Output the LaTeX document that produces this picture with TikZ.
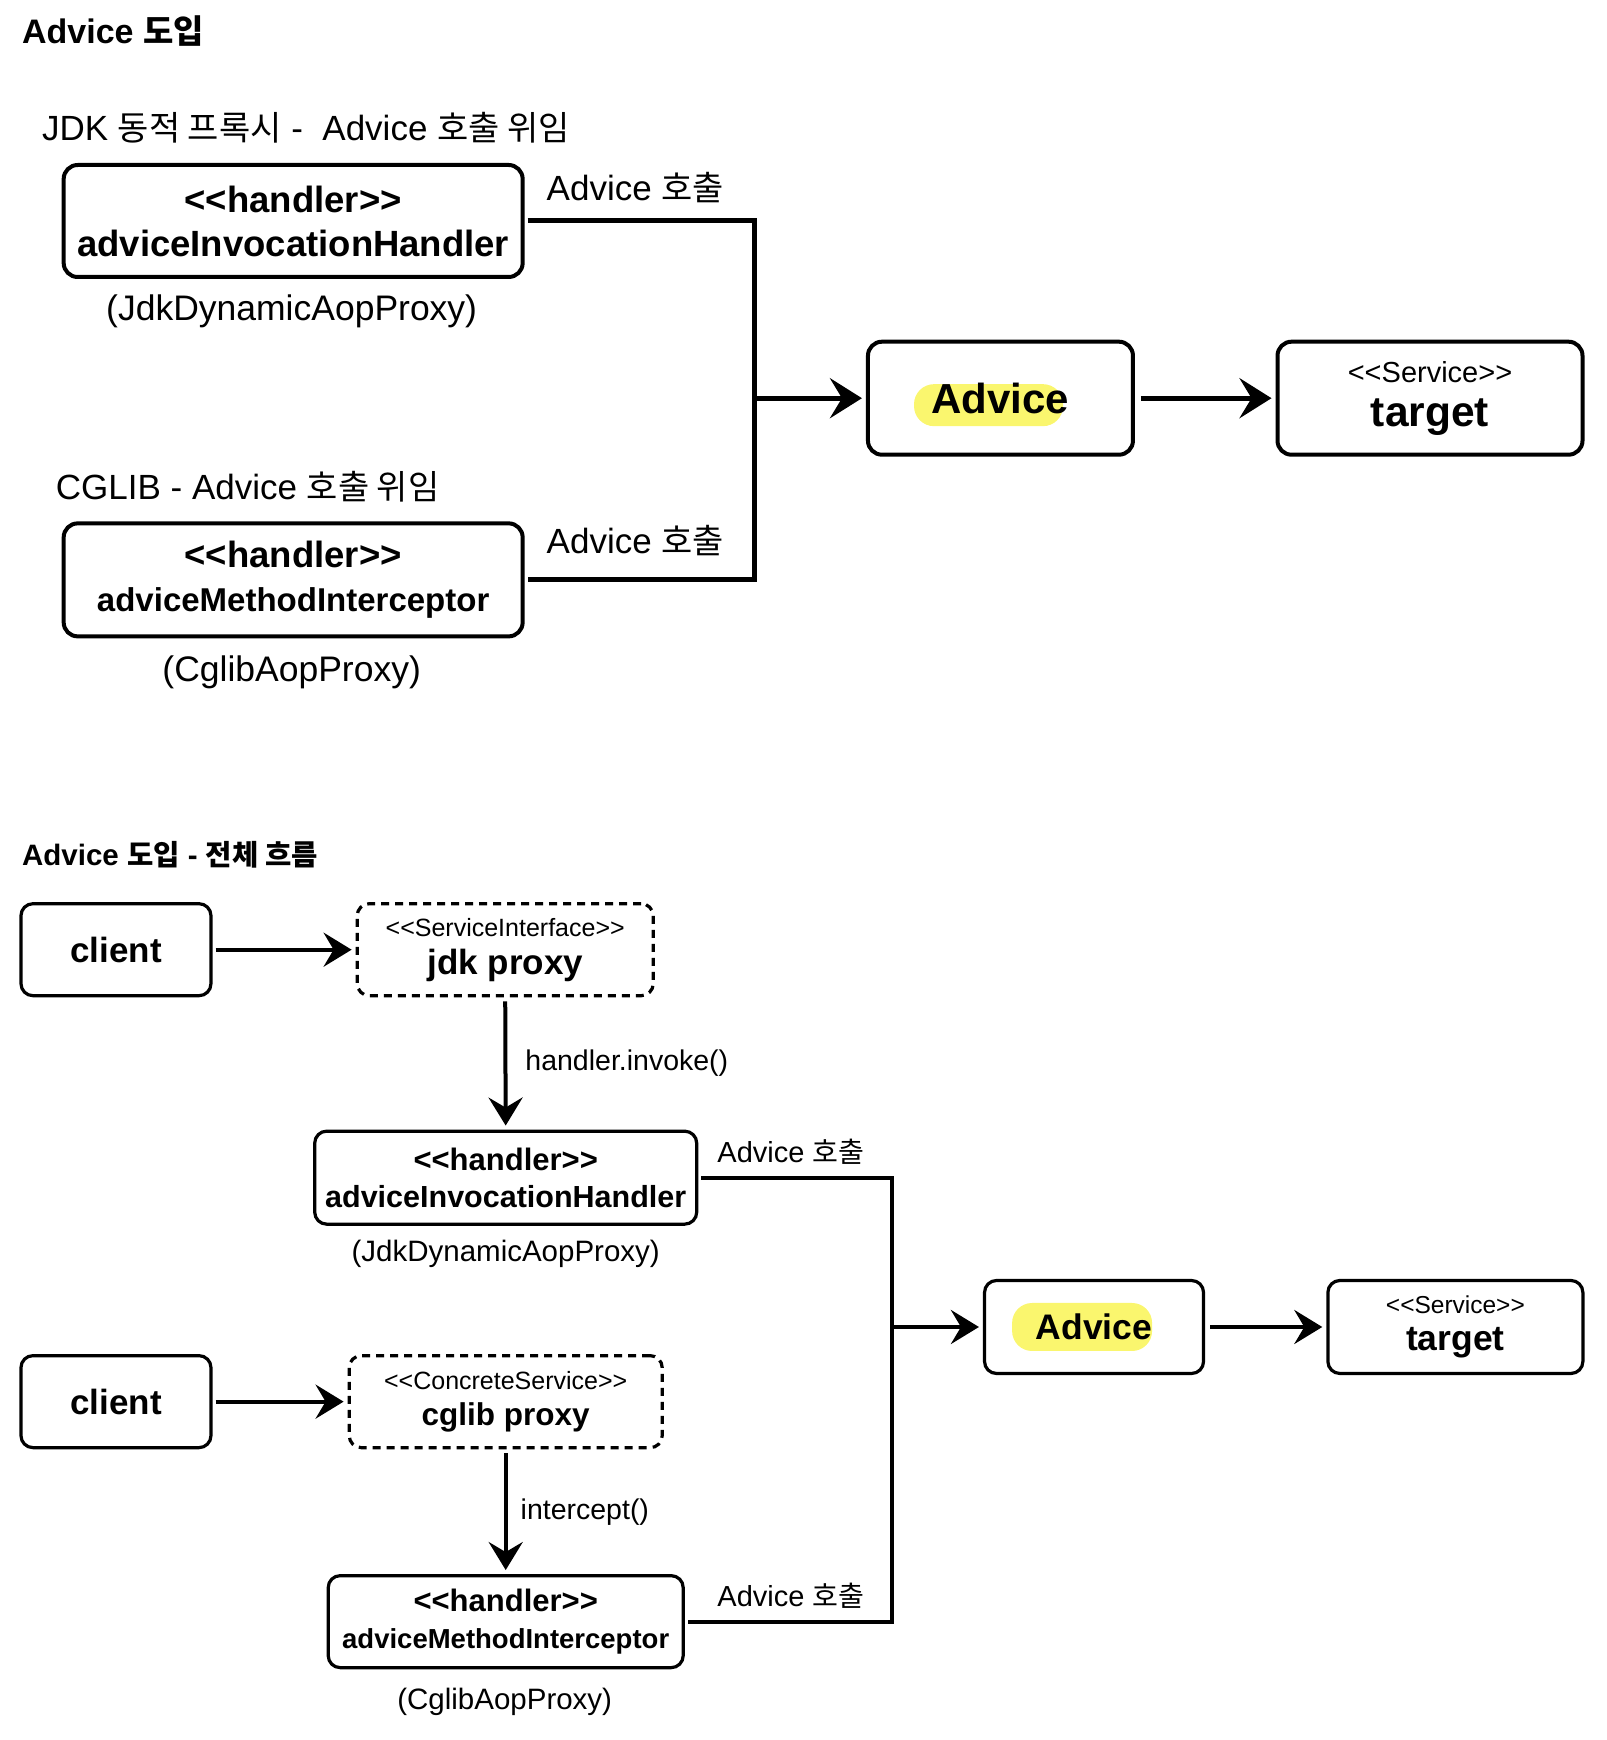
\documentclass[tikz,border=0pt]{standalone}
\usepackage{fontspec}
\setmainfont{Liberation Sans}
\newfontfamily\kor{Noto Sans CJK KR}[Scale=0.97]
\usetikzlibrary{arrows.meta}
\definecolor{hl}{RGB}{250,246,110}
\newcommand\fsz[2]{\fontsize{#1}{#2}\selectfont}
\begin{document}
\begin{tikzpicture}[x=0.9955pt,y=-0.9955pt,
  box/.style={draw=black, line width=4pt, rounded corners=14pt, inner sep=0pt, align=center},
  sbox/.style={box, line width=3.2pt, rounded corners=12pt},
  dbox/.style={sbox, dash pattern=on 8pt off 6pt},
  lbl/.style={inner sep=0pt, anchor=west},
  ctr/.style={inner sep=0pt},
  conn/.style={draw=black, line width=5pt},
  sconn/.style={draw=black, line width=4pt},
  tip/.style={-{Stealth[length=32pt,width=40pt,inset=12pt]}},
  stip/.style={-{Stealth[length=28pt,width=34pt,inset=10pt]}},
  hilite/.style={fill=hl, rounded corners=20pt, inner sep=0pt, draw=none},
]
\useasboundingbox (0,0) rectangle (1613.3,1747.9);

% ---------- top section ----------
\node[lbl, font=\bfseries\fsz{34}{40}] (title1) at (22,31) {Advice {\kor 도입}};
\node[lbl, font=\fsz{35}{42}] (jdkcap) at (42,128) {JDK {\kor 동적 프록시} - \ Advice {\kor 호출 위임}};

\node[box, minimum width=459pt, minimum height=112pt, font=\bfseries\fsz{36.5}{44}] (h1) at (294.5,222)
  {<{}<handler>{}>\\adviceInvocationHandler};
\node[ctr, font=\fsz{35.5}{42}] (h1sub) at (293,313) {(JdkDynamicAopProxy)};
\node[lbl, font=\fsz{35}{42}] (call1) at (549,188) {Advice {\kor 호출}};

\node[lbl, font=\fsz{35}{42}] (cgcap) at (56,488.5) {CGLIB - Advice {\kor 호출 위임}};
\node[box, minimum width=459pt, minimum height=113pt, font=\bfseries\fsz{36.5}{44}] (h2) at (294.5,582.5)
  {<{}<handler>{}>\\{\fsz{33}{44}adviceMethodInterceptor}};
\node[ctr, font=\fsz{35.5}{42}] (h2sub) at (293,675) {(CglibAopProxy)};
\node[lbl, font=\fsz{35}{42}] (call2) at (549,543) {Advice {\kor 호출}};

\node[hilite, minimum width=149pt, minimum height=42pt] (hl1) at (993,407) {};
\node[box, minimum width=265pt, minimum height=113pt, font=\bfseries\fsz{42}{50}] (adv1) at (1005,400) {Advice};
\node[box, minimum width=305pt, minimum height=113pt, font=\fsz{29}{44}] (tg1) at (1436.5,400)
  {<{}<Service>{}>\\{\bfseries\fsz{42.5}{44}target}};

\coordinate (j1) at (758,400);
\draw[conn, shorten <=3pt, shorten >=3pt] (h1.east) -| (j1) |- (h2.east);
\draw[conn, tip, shorten >=4pt] (j1) -- (adv1.west);
\draw[conn, tip, shorten <=6pt, shorten >=4pt] (adv1.east) -- (tg1.west);

% ---------- bottom section ----------
\node[lbl, font=\bfseries\fsz{29.5}{35}] (title2) at (22,859) {Advice {\kor 도입} - {\kor 전체 흐름}};

\node[sbox, minimum width=190pt, minimum height=92pt, font=\bfseries\fsz{35}{42}] (c1) at (116.5,954) {client};
\node[dbox, minimum width=296pt, minimum height=92pt, font=\fsz{25}{38}] (jp) at (507.5,954)
  {<{}<ServiceInterface>{}>\\{\bfseries\fsz{35}{38}jdk proxy}};
\node[sbox, minimum width=382pt, minimum height=93pt, font=\bfseries\fsz{31}{37}] (h3) at (508,1183)
  {<{}<handler>{}>\\{\fsz{30.5}{37}adviceInvocationHandler}};
\node[ctr, font=\fsz{29.5}{35}] (h3sub) at (508,1260) {(JdkDynamicAopProxy)};
\node[lbl, font=\fsz{29}{35}] (call3) at (720.5,1156.6) {Advice {\kor 호출}};

\node[hilite, minimum width=140pt, minimum height=48pt] (hl2) at (1087,1333) {};
\node[sbox, minimum width=219pt, minimum height=93pt, font=\bfseries\fsz{35.5}{42}] (adv2) at (1099,1333) {Advice};
\node[sbox, minimum width=255pt, minimum height=93pt, font=\fsz{24.5}{36.5}] (tg2) at (1462,1333)
  {<{}<Service>{}>\\{\bfseries\fsz{35.5}{36.5}target}};

\node[sbox, minimum width=190pt, minimum height=92pt, font=\bfseries\fsz{35}{42}] (c2) at (116.5,1408) {client};
\node[dbox, minimum width=313pt, minimum height=92pt, font=\fsz{25}{35.5}] (cg) at (508,1408)
  {<{}<ConcreteService>{}>\\{\bfseries\fsz{31.5}{35.5}cglib proxy}};
\node[sbox, minimum width=355pt, minimum height=92pt, font=\bfseries\fsz{31}{36.6}] (h4) at (508,1629)
  {<{}<handler>{}>\\{\fsz{27.5}{36.6}adviceMethodInterceptor}};
\node[ctr, font=\fsz{29.5}{35}] (h4sub) at (507,1710) {(CglibAopProxy)};
\node[lbl, font=\fsz{29}{35}] (call4) at (720.5,1602.7) {Advice {\kor 호출}};

\coordinate (j2) at (895.6,1333);
\draw[sconn, stip, shorten <=3pt, shorten >=4pt] (c1) -- (jp);
\draw[sconn, stip, shorten <=4pt, shorten >=4pt] (jp.south) -- node[midway, anchor=west, xshift=18pt, inner sep=0pt, font=\fsz{28.5}{34}] (invlbl) {handler.invoke()} (h3.north);
\draw[sconn, shorten <=3pt, shorten >=3pt] (h3.east) -| (j2) |- (h4.east);
\draw[sconn, stip, shorten >=4pt] (j2) -- (adv2.west);
\draw[sconn, stip, shorten <=5pt, shorten >=4pt] (adv2.east) -- (tg2.west);
\draw[sconn, stip, shorten <=3pt, shorten >=4pt] (c2) -- (cg);
\draw[sconn, stip, shorten <=4pt, shorten >=4pt] (cg.south) -- node[midway, anchor=west, xshift=13pt, inner sep=0pt, font=\fsz{28.5}{34}] (intlbl) {intercept()} (h4.north);
\end{tikzpicture}
\end{document}
